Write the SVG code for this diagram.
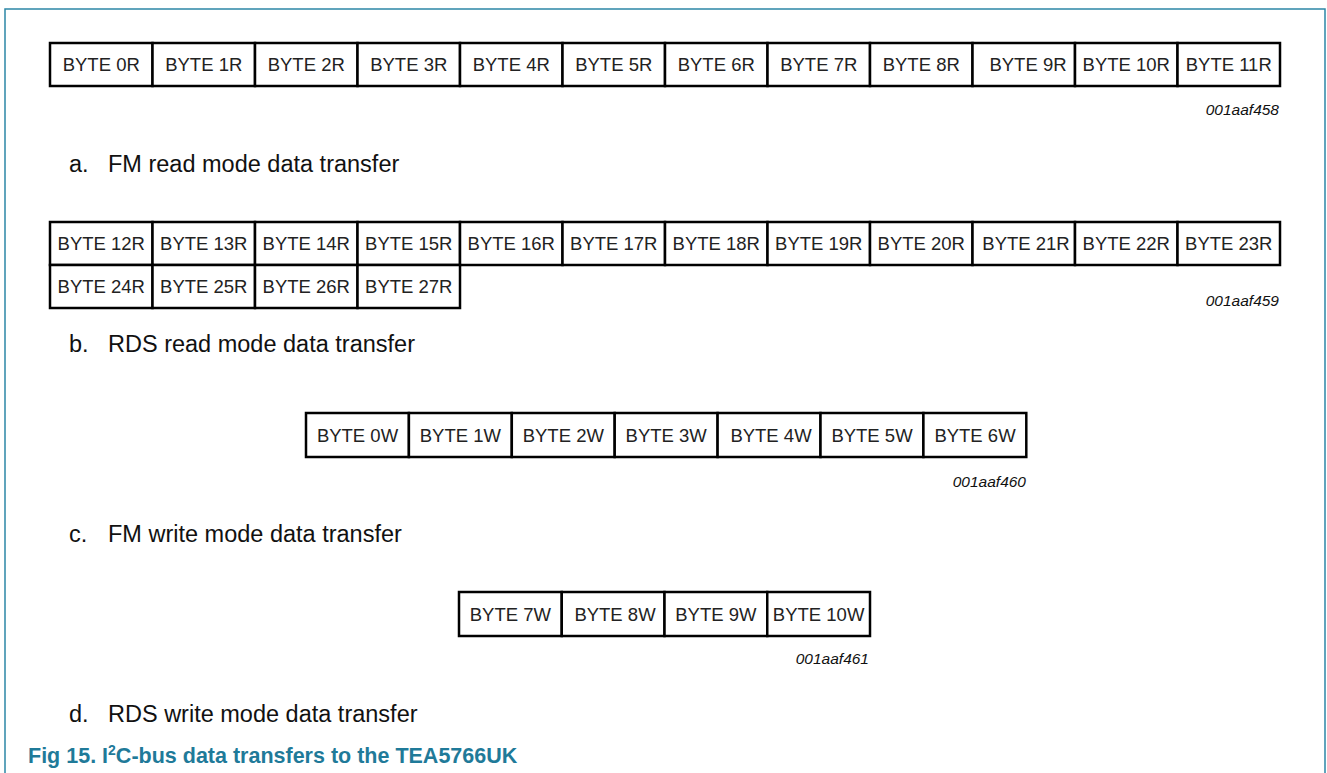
<svg xmlns="http://www.w3.org/2000/svg" width="1327" height="773" viewBox="0 0 1327 773">
<style>
.cell rect{fill:#fff;stroke:#000;stroke-width:2.5}
.cell text{font-family:"Liberation Sans",Arial,sans-serif;font-size:18.5px;fill:#222;text-anchor:middle}
.id{font-family:"Liberation Sans",Arial,sans-serif;font-size:15.5px;font-style:italic;fill:#111;text-anchor:end}
.cap{font-family:"Liberation Sans",Arial,sans-serif;font-size:23.5px;fill:#111}
.title{font-family:"Liberation Sans",Arial,sans-serif;font-size:21.5px;font-weight:bold;fill:#1f7a99}
</style>
<rect width="1327" height="773" fill="#fff"/>
<path d="M5,790 V9 H1325 V790" fill="none" stroke="#2c87a6" stroke-width="1.5"/>

<g id="rowA">
<g id="b0r" class="cell"><rect x="50" y="43" width="102.5" height="43"/><text x="101.25" y="71">BYTE 0R</text></g>
<g id="b1r" class="cell"><rect x="152.5" y="43" width="102.5" height="43"/><text x="203.75" y="71">BYTE 1R</text></g>
<g id="b2r" class="cell"><rect x="255" y="43" width="102.5" height="43"/><text x="306.25" y="71">BYTE 2R</text></g>
<g id="b3r" class="cell"><rect x="357.5" y="43" width="102.5" height="43"/><text x="408.75" y="71">BYTE 3R</text></g>
<g id="b4r" class="cell"><rect x="460" y="43" width="102.5" height="43"/><text x="511.25" y="71">BYTE 4R</text></g>
<g id="b5r" class="cell"><rect x="562.5" y="43" width="102.5" height="43"/><text x="613.75" y="71">BYTE 5R</text></g>
<g id="b6r" class="cell"><rect x="665" y="43" width="102.5" height="43"/><text x="716.25" y="71">BYTE 6R</text></g>
<g id="b7r" class="cell"><rect x="767.5" y="43" width="102.5" height="43"/><text x="818.75" y="71">BYTE 7R</text></g>
<g id="b8r" class="cell"><rect x="870" y="43" width="102.5" height="43"/><text x="921.25" y="71">BYTE 8R</text></g>
<g id="b9r" class="cell"><rect x="972.5" y="43" width="102.5" height="43"/><text x="1028" y="71">BYTE 9R</text></g>
<g id="b10r" class="cell"><rect x="1075" y="43" width="102.5" height="43"/><text x="1126.25" y="71">BYTE 10R</text></g>
<g id="b11r" class="cell"><rect x="1177.5" y="43" width="102.5" height="43"/><text x="1228.75" y="71">BYTE 11R</text></g>
</g>
<text class="id" x="1279" y="115">001aaf458</text>
<text class="cap" x="69" y="171.5">a.</text><text class="cap" x="108" y="171.5">FM read mode data transfer</text>

<g id="rowB">
<g id="b12r" class="cell"><rect x="50" y="222" width="102.5" height="43"/><text x="101.25" y="250">BYTE 12R</text></g>
<g id="b13r" class="cell"><rect x="152.5" y="222" width="102.5" height="43"/><text x="203.75" y="250">BYTE 13R</text></g>
<g id="b14r" class="cell"><rect x="255" y="222" width="102.5" height="43"/><text x="306.25" y="250">BYTE 14R</text></g>
<g id="b15r" class="cell"><rect x="357.5" y="222" width="102.5" height="43"/><text x="408.75" y="250">BYTE 15R</text></g>
<g id="b16r" class="cell"><rect x="460" y="222" width="102.5" height="43"/><text x="511.25" y="250">BYTE 16R</text></g>
<g id="b17r" class="cell"><rect x="562.5" y="222" width="102.5" height="43"/><text x="613.75" y="250">BYTE 17R</text></g>
<g id="b18r" class="cell"><rect x="665" y="222" width="102.5" height="43"/><text x="716.25" y="250">BYTE 18R</text></g>
<g id="b19r" class="cell"><rect x="767.5" y="222" width="102.5" height="43"/><text x="818.75" y="250">BYTE 19R</text></g>
<g id="b20r" class="cell"><rect x="870" y="222" width="102.5" height="43"/><text x="921.25" y="250">BYTE 20R</text></g>
<g id="b21r" class="cell"><rect x="972.5" y="222" width="102.5" height="43"/><text x="1026" y="250">BYTE 21R</text></g>
<g id="b22r" class="cell"><rect x="1075" y="222" width="102.5" height="43"/><text x="1126.25" y="250">BYTE 22R</text></g>
<g id="b23r" class="cell"><rect x="1177.5" y="222" width="102.5" height="43"/><text x="1228.75" y="250">BYTE 23R</text></g>
<g id="b24r" class="cell"><rect x="50" y="265" width="102.5" height="43"/><text x="101.25" y="293">BYTE 24R</text></g>
<g id="b25r" class="cell"><rect x="152.5" y="265" width="102.5" height="43"/><text x="203.75" y="293">BYTE 25R</text></g>
<g id="b26r" class="cell"><rect x="255" y="265" width="102.5" height="43"/><text x="306.25" y="293">BYTE 26R</text></g>
<g id="b27r" class="cell"><rect x="357.5" y="265" width="102.5" height="43"/><text x="408.75" y="293">BYTE 27R</text></g>
</g>
<text class="id" x="1279" y="306">001aaf459</text>
<text class="cap" x="69" y="352">b.</text><text class="cap" x="108" y="352">RDS read mode data transfer</text>

<g id="rowC">
<g id="b0w" class="cell"><rect x="306" y="413" width="102.9" height="44"/><text x="357.5" y="441.5">BYTE 0W</text></g>
<g id="b1w" class="cell"><rect x="408.9" y="413" width="102.9" height="44"/><text x="460.4" y="441.5">BYTE 1W</text></g>
<g id="b2w" class="cell"><rect x="511.8" y="413" width="102.9" height="44"/><text x="563.3" y="441.5">BYTE 2W</text></g>
<g id="b3w" class="cell"><rect x="614.7" y="413" width="102.9" height="44"/><text x="666.2" y="441.5">BYTE 3W</text></g>
<g id="b4w" class="cell"><rect x="717.6" y="413" width="102.9" height="44"/><text x="771" y="441.5">BYTE 4W</text></g>
<g id="b5w" class="cell"><rect x="820.5" y="413" width="102.9" height="44"/><text x="872" y="441.5">BYTE 5W</text></g>
<g id="b6w" class="cell"><rect x="923.4" y="413" width="102.9" height="44"/><text x="975" y="441.5">BYTE 6W</text></g>
</g>
<text class="id" x="1026" y="487">001aaf460</text>
<text class="cap" x="69" y="541.5">c.</text><text class="cap" x="108" y="541.5">FM write mode data transfer</text>

<g id="rowD">
<g id="b7w" class="cell"><rect x="459" y="592" width="102.75" height="44"/><text x="510.4" y="620.5">BYTE 7W</text></g>
<g id="b8w" class="cell"><rect x="561.75" y="592" width="102.75" height="44"/><text x="615" y="620.5">BYTE 8W</text></g>
<g id="b9w" class="cell"><rect x="664.5" y="592" width="102.75" height="44"/><text x="715.9" y="620.5">BYTE 9W</text></g>
<g id="b10w" class="cell"><rect x="767.25" y="592" width="102.75" height="44"/><text x="818.6" y="620.5">BYTE 10W</text></g>
</g>
<text class="id" x="869" y="664">001aaf461</text>
<text class="cap" x="69" y="721.5">d.</text><text class="cap" x="108" y="721.5">RDS write mode data transfer</text>

<g id="connectors"/>

<text class="title" x="28" y="763">Fig 15. I<tspan font-size="14px" dy="-8">2</tspan><tspan dy="8">C-bus data transfers to the TEA5766UK</tspan></text>
</svg>
